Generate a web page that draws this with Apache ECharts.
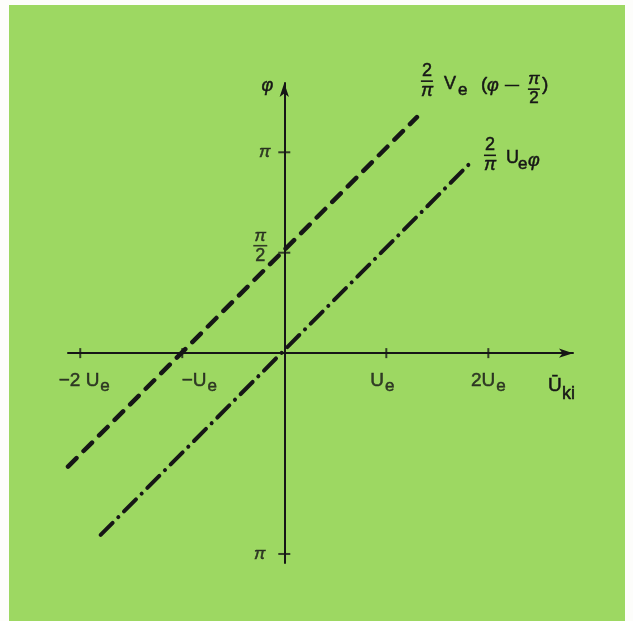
<!DOCTYPE html>
<html>
<head>
<meta charset="utf-8">
<script src="https://cdn.jsdelivr.net/npm/echarts@6/dist/echarts.min.js"></script>
<style>
  html, body { margin: 0; padding: 0; background: #fdfdfb; }
  #c { width: 633px; height: 621px; }
</style>
</head>
<body>
<div id="c"></div>
<script>
// Horizontal axis in units of Ue, vertical axis in units of π/2.
const xTicks = [-2, -1, 1, 2];
const xTickLabels = ['−2 U', '−U', 'U', '2U'];   // each carries a lowered "e"
const yTicks = [2, 1, -2];
const yTickLabels = ['π', 'π/2', 'π'];

// Dashed line: (2/π) Ve (φ − π/2)
const dashedX = [-2.12, 1.30];
const dashedY = [-1.13, 2.35];
// Dash-dot line: (2/π) Ue φ
const dashDotX = [-1.80, 1.82];
const dashDotY = [-1.81, 1.89];

const X_MIN = -2.12, X_MAX = 2.83;
const Y_MIN = -2.09, Y_MAX = 2.69;

const INK = '#161616';
const FONT = '"Liberation Sans", Arial, sans-serif';
const HEAVY = { textBorderColor: INK, textBorderWidth: 0.5 };
const X_LABEL_SHIFT = [4, 17, -4, 0];
const Y_LABEL_SHIFT = [[0, 0], [-3, -6], [-5, 0]];

const chart = echarts.init(document.getElementById('c'));

const axisCommon = {
  type: 'value',
  axisLine: {
    onZero: true,
    symbol: ['none', 'arrow'],
    symbolSize: [7, 14],
    lineStyle: { color: INK, width: 2 }
  },
  axisTick: { show: false },
  axisLabel: { show: false },
  splitLine: { show: false }
};

const subRich = {
  m: Object.assign({ fontSize: 19, fontFamily: FONT, color: INK, lineHeight: 21, verticalAlign: 'top' }, HEAVY),
  s: Object.assign({ fontSize: 17, fontFamily: FONT, color: INK, lineHeight: 21, verticalAlign: 'top', padding: [7, 0, 0, 1] }, HEAVY)
};

const option = {
  animation: false,
  backgroundColor: '#fdfdfb',
  graphic: [{
    type: 'rect', z: -10, silent: true,
    shape: { x: 9, y: 5, width: 616, height: 620 },
    style: { fill: '#9dd862' }
  }],
  grid: { left: 68, right: 60, top: 83, bottom: 58 },
  xAxis: Object.assign({}, axisCommon, { min: X_MIN, max: X_MAX }),
  yAxis: Object.assign({}, axisCommon, { min: Y_MIN, max: Y_MAX }),
  series: [
    {
      type: 'line', symbol: 'none', z: 3,
      data: dashedX.map((x, i) => [x, dashedY[i]]),
      lineStyle: { color: INK, width: 4.5, type: [12, 10], cap: 'round' }
    },
    {
      type: 'line', symbol: 'none', z: 3,
      data: dashDotX.map((x, i) => [x, dashDotY[i]]),
      lineStyle: { color: INK, width: 4, type: [17, 8, 0.1, 8], cap: 'round' }
    },
    {
      type: 'scatter', z: 4,
      symbol: 'rect', symbolSize: [2, 10],
      itemStyle: { color: INK },
      data: xTicks.map((v, i) => ({ value: [v, 0], label: { offset: [X_LABEL_SHIFT[i], 0] } })),
      label: {
        show: true, position: 'bottom', distance: 13,
        formatter: p => '{m|' + xTickLabels[p.dataIndex] + '}{s|e}',
        rich: subRich
      }
    },
    {
      type: 'scatter', z: 4,
      symbol: 'rect', symbolSize: [12, 2],
      itemStyle: { color: INK },
      data: yTicks.map((v, i) => ({ value: [0, v], label: { offset: Y_LABEL_SHIFT[i] } })),
      label: {
        show: true, position: 'left', distance: 8,
        formatter: p => {
          const t = yTickLabels[p.dataIndex];
          if (t.indexOf('/') > 0) {
            const [n, d] = t.split('/');
            return '{g|' + n + '}\n{bar| }\n{d|' + d + '}';
          }
          return '{g|' + t + '}';
        },
        rich: {
          g: Object.assign({ fontSize: 17, fontFamily: FONT, fontStyle: 'italic', color: INK, align: 'center', lineHeight: 14 }, HEAVY),
          bar: { width: 14, height: 1.6, lineHeight: 5, backgroundColor: INK, align: 'center' },
          d: Object.assign({ fontSize: 18, fontFamily: FONT, color: INK, align: 'center', lineHeight: 16 }, HEAVY)
        }
      }
    }
  ]
};

chart.setOption(option);

// Annotations placed relative to points on the axes and line ends.
const px = (x, y) => chart.convertToPixel({ gridIndex: 0 }, [x, y]);

function txt(x, y, text, size, extra) {
  return {
    type: 'text', x: x, y: y, z: 5, silent: true,
    style: Object.assign({ text: text, fontSize: size, fontFamily: FONT, fill: INK,
      stroke: INK, lineWidth: 0.5,
      align: 'left', verticalAlign: 'top' }, extra || {})
  };
}
function fraction(cx, barY, num, den, size, w, numStyle, denStyle) {
  return [
    txt(cx, barY - 1, num, size, Object.assign({ align: 'center', verticalAlign: 'bottom' }, numStyle || {})),
    { type: 'rect', z: 5, silent: true, shape: { x: cx - w / 2, y: barY - 0.8, width: w, height: 1.6 }, style: { fill: INK } },
    txt(cx, barY + 1, den, size, Object.assign({ align: 'center', verticalAlign: 'top' }, denStyle || {}))
  ];
}

const yTop = px(0, Y_MAX);
const xEnd = px(X_MAX, 0);
const A = px(dashedX[1], dashedY[1]);
const B = px(dashDotX[1], dashDotY[1]);
const ital = { fontStyle: 'italic' };

const extra = [].concat(
  // axis names
  [txt(yTop[0] - 17, yTop[1] + 3, 'φ', 18, { align: 'center', verticalAlign: 'middle', fontStyle: 'italic' })],
  [txt(xEnd[0] - 25, xEnd[1] + 23, 'Ū', 19), txt(xEnd[0] - 11, xEnd[1] + 32, 'ki', 18)],
  // (2/π) Ve (φ − π/2)
  fraction(A[0] + 10, A[1] - 36, '2', 'π', 18, 12, null, ital),
  [txt(A[0] + 27, A[1] - 42, 'V', 18), txt(A[0] + 41, A[1] - 35, 'e', 17),
   txt(A[0] + 64, A[1] - 42, '(', 19), txt(A[0] + 70, A[1] - 40, 'φ', 18, ital),
   txt(A[0] + 88, A[1] - 39, '—', 14)],
  fraction(A[0] + 117, A[1] - 28, 'π', '2', 17, 12, ital, null),
  [txt(A[0] + 125, A[1] - 42, ')', 19)],
  // (2/π) Ue φ
  fraction(B[0] + 20, B[1] - 8, '2', 'π', 18, 12, null, ital),
  [txt(B[0] + 36, B[1] - 14, 'U', 18), txt(B[0] + 48, B[1] - 8, 'e', 17),
   txt(B[0] + 58, B[1] - 11, 'φ', 18, ital)]
);

chart.setOption({ graphic: option.graphic.concat(extra) });
</script>
</body>
</html>
